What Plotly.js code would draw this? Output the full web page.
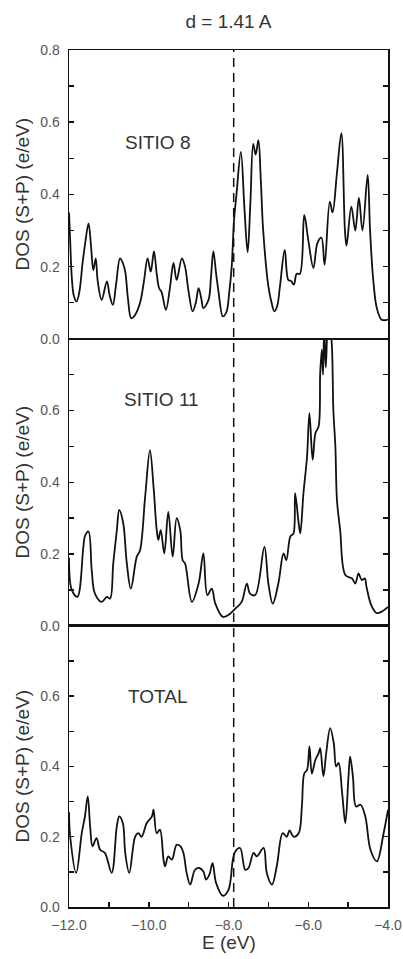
<!DOCTYPE html>
<html>
<head>
<meta charset="utf-8">
<script src="https://cdn.plot.ly/plotly-3.0.1.min.js"></script>
<style>
  html, body { margin: 0; padding: 0; background: #fff; }
  #chart { width: 403px; height: 959px; }
</style>
</head>
<body>
<div id="chart"></div>
<script>
// ---- Data ----
const energy8 = [-12.0,-11.97,-11.93,-11.88,-11.81,-11.74,-11.66,-11.60,-11.51,-11.45,-11.39,-11.33,-11.28,-11.18,-11.05,-10.98,-10.90,-10.82,-10.72,-10.65,-10.59,-10.52,-10.44,-10.35,-10.22,-10.12,-10.03,-9.95,-9.87,-9.80,-9.74,-9.68,-9.57,-9.47,-9.38,-9.30,-9.17,-9.09,-9.0,-8.90,-8.82,-8.75,-8.68,-8.63,-8.50,-8.44,-8.38,-8.31,-8.25,-8.14,-8.05,-7.98,-7.92,-7.86,-7.80,-7.69,-7.60,-7.52,-7.45,-7.38,-7.32,-7.25,-7.19,-7.13,-7.0,-6.92,-6.85,-6.78,-6.71,-6.59,-6.50,-6.43,-6.36,-6.29,-6.21,-6.10,-6.0,-5.87,-5.77,-5.67,-5.59,-5.46,-5.39,-5.28,-5.17,-5.08,-5.04,-4.92,-4.82,-4.73,-4.64,-4.51,-4.45,-4.37,-4.28,-4.16,-4.0];
const dos8 = [0.35,0.27,0.17,0.12,0.103,0.13,0.21,0.26,0.32,0.26,0.19,0.223,0.16,0.108,0.159,0.12,0.094,0.15,0.223,0.21,0.186,0.11,0.057,0.065,0.099,0.16,0.223,0.186,0.242,0.18,0.14,0.13,0.08,0.14,0.21,0.163,0.223,0.20,0.13,0.076,0.10,0.14,0.11,0.085,0.108,0.17,0.242,0.18,0.13,0.062,0.075,0.13,0.20,0.33,0.40,0.518,0.36,0.24,0.38,0.54,0.51,0.55,0.44,0.30,0.145,0.10,0.076,0.09,0.145,0.246,0.163,0.16,0.15,0.18,0.18,0.343,0.274,0.196,0.265,0.28,0.205,0.38,0.35,0.46,0.57,0.30,0.258,0.366,0.30,0.39,0.30,0.454,0.30,0.163,0.085,0.053,0.053];

const energy11 = [-12.0,-11.93,-11.79,-11.64,-11.60,-11.51,-11.43,-11.35,-11.18,-11.05,-10.97,-10.89,-10.80,-10.74,-10.64,-10.55,-10.45,-10.30,-10.22,-10.09,-9.97,-9.88,-9.80,-9.76,-9.70,-9.61,-9.51,-9.40,-9.30,-9.21,-9.15,-9.09,-8.92,-8.75,-8.63,-8.53,-8.42,-8.33,-8.14,-7.96,-7.83,-7.67,-7.54,-7.46,-7.33,-7.10,-7.0,-6.89,-6.75,-6.62,-6.55,-6.45,-6.37,-6.33,-6.24,-6.20,-6.12,-6.03,-5.97,-5.89,-5.82,-5.74,-5.70,-5.66,-5.63,-5.60,-5.56,-5.50,-5.42,-5.37,-5.32,-5.28,-5.20,-5.07,-4.90,-4.82,-4.74,-4.66,-4.58,-4.54,-4.42,-4.29,-4.17,-4.0];
const dos11 = [0.19,0.10,0.081,0.22,0.25,0.263,0.155,0.09,0.067,0.081,0.076,0.174,0.267,0.323,0.286,0.174,0.104,0.193,0.21,0.36,0.49,0.388,0.267,0.24,0.267,0.202,0.318,0.193,0.30,0.267,0.183,0.174,0.067,0.118,0.202,0.086,0.104,0.062,0.025,0.034,0.048,0.067,0.118,0.09,0.086,0.22,0.118,0.062,0.118,0.202,0.183,0.249,0.258,0.37,0.286,0.258,0.37,0.472,0.593,0.463,0.537,0.556,0.705,0.77,0.70,0.83,0.72,0.85,0.80,0.60,0.50,0.35,0.267,0.142,0.132,0.118,0.146,0.128,0.132,0.109,0.058,0.036,0.039,0.053];

const energyTotal = [-12.0,-11.97,-11.82,-11.68,-11.60,-11.53,-11.47,-11.41,-11.31,-11.22,-11.10,-10.93,-10.80,-10.74,-10.65,-10.59,-10.49,-10.34,-10.26,-10.18,-10.05,-9.92,-9.88,-9.80,-9.72,-9.63,-9.59,-9.51,-9.42,-9.30,-9.21,-9.13,-9.05,-8.96,-8.84,-8.73,-8.63,-8.56,-8.48,-8.40,-8.31,-8.14,-8.0,-7.89,-7.83,-7.71,-7.58,-7.50,-7.37,-7.29,-7.12,-7.04,-6.91,-6.79,-6.64,-6.54,-6.47,-6.37,-6.24,-6.16,-6.10,-6.03,-5.97,-5.91,-5.82,-5.74,-5.70,-5.62,-5.55,-5.45,-5.36,-5.30,-5.24,-5.15,-5.07,-4.99,-4.95,-4.88,-4.80,-4.69,-4.57,-4.44,-4.28,-4.11,-4.0];
const dosTotal = [0.27,0.20,0.097,0.21,0.258,0.315,0.23,0.173,0.196,0.163,0.154,0.097,0.23,0.258,0.239,0.154,0.097,0.20,0.21,0.20,0.239,0.258,0.277,0.21,0.22,0.135,0.116,0.144,0.135,0.177,0.173,0.154,0.097,0.064,0.106,0.111,0.101,0.078,0.092,0.125,0.068,0.032,0.049,0.135,0.158,0.168,0.106,0.111,0.154,0.144,0.168,0.097,0.064,0.116,0.21,0.20,0.218,0.20,0.21,0.286,0.38,0.39,0.457,0.38,0.419,0.438,0.452,0.372,0.438,0.509,0.466,0.40,0.41,0.324,0.239,0.372,0.428,0.372,0.286,0.291,0.258,0.163,0.13,0.21,0.277];

const xTickValues = [-12,-11,-10,-9,-8,-7,-6,-5,-4];
const xTickLabels = ['\u221212.0','','\u221210.0','','\u22128.0','','\u22126.0','','\u22124.0'];
const yTickValuesTop = [0,0.1,0.2,0.3,0.4,0.5,0.6,0.7,0.8];
const yTickLabelsTop = ['0.0','','0.2','','0.4','','0.6','','0.8'];
const yTickValues = [0,0.1,0.2,0.3,0.4,0.5,0.6,0.7];
const yTickLabels = ['0.0','','0.2','','0.4','','0.6',''];
const panelLabels = ['SITIO 8','SITIO 11','TOTAL'];
const fermiEnergy = -7.87;
const chartTitle = 'd = 1.41 A';
const yTitle = 'DOS (S+P) (e/eV)';
const xTitle = 'E (eV)';

// ---- Styling ----
const FONT = 'Liberation Sans, Arial, Helvetica, sans-serif';
const tickFont = {family: FONT, size: 14, color: '#555'};
const titleFont = {family: FONT, size: 19, color: '#333'};

function yAxis(domain, vals, labels) {
  return {
    domain: domain, range: [0, 0.8], anchor: 'x',
    tickmode: 'array', tickvals: vals, ticktext: labels,
    ticks: 'inside', ticklen: 5, tickwidth: 1.5, tickcolor: '#111',
    ticklabelstandoff: 5,
    showline: true, linecolor: '#111', linewidth: 1.5, mirror: 'ticks',
    showgrid: false, zeroline: false, tickfont: tickFont, fixedrange: true
  };
}
function xAxisPlain(anchor) {
  return {
    matches: 'x', anchor: anchor, range: [-12, -4],
    showticklabels: false, ticks: '', showline: true, mirror: true,
    linecolor: '#111', linewidth: 1.2, showgrid: false, zeroline: false
  };
}

const lineStyle = {color: '#111', width: 1.8, shape: 'spline', smoothing: 1};

const traces = [
  {x: energy8, y: dos8, xaxis: 'x3', yaxis: 'y3', mode: 'lines', line: lineStyle, hoverinfo: 'skip'},
  {x: energy11, y: dos11, xaxis: 'x2', yaxis: 'y2', mode: 'lines', line: lineStyle, hoverinfo: 'skip'},
  {x: energyTotal, y: dosTotal, xaxis: 'x', yaxis: 'y', mode: 'lines', line: lineStyle, hoverinfo: 'skip'}
];

const domains = [[0.663, 1], [0.328, 0.663], [0, 0.328]];
const axisRefs = [['x3','y3'], ['x2','y2'], ['x','y']];
const labelY = [0.545, 0.63, 0.60];
const labelX = [-9.77, -9.69, -9.79];

const annotations = [];
for (let i = 0; i < 3; i++) {
  annotations.push({
    xref: axisRefs[i][0], yref: axisRefs[i][1], x: labelX[i], y: labelY[i],
    text: panelLabels[i], showarrow: false, font: titleFont,
    xanchor: 'center', yanchor: 'middle'
  });
  annotations.push({
    xref: 'paper', yref: 'paper', x: -0.147, y: (domains[i][0] + domains[i][1]) / 2,
    text: yTitle, textangle: -90, showarrow: false, font: titleFont,
    xanchor: 'center', yanchor: 'middle'
  });
}
annotations.push({
  xref: 'paper', yref: 'paper', x: 0.5, y: -0.041, text: xTitle,
  showarrow: false, font: titleFont, xanchor: 'center', yanchor: 'middle'
});

const layout = {
  width: 403, height: 959,
  margin: {l: 69, r: 15, t: 50, b: 52},
  paper_bgcolor: '#fff', plot_bgcolor: '#fff',
  showlegend: false,
  title: {text: chartTitle, font: titleFont, x: 0.5, xref: 'paper', y: 1 - 21/959, yanchor: 'middle'},
  xaxis: {
    domain: [0, 1], range: [-12, -4], anchor: 'y',
    tickmode: 'array', tickvals: xTickValues, ticktext: xTickLabels,
    ticks: 'inside', ticklen: 5, tickwidth: 1.5, tickcolor: '#111',
    ticklabelstandoff: 5,
    showline: true, linecolor: '#111', linewidth: 1.5, mirror: true,
    showgrid: false, zeroline: false, tickfont: tickFont, fixedrange: true
  },
  xaxis2: xAxisPlain('y2'),
  xaxis3: xAxisPlain('y3'),
  yaxis: yAxis(domains[2], yTickValues, yTickLabels),
  yaxis2: yAxis(domains[1], yTickValues, yTickLabels),
  yaxis3: yAxis(domains[0], yTickValuesTop, yTickLabelsTop),
  shapes: [{
    type: 'line', xref: 'x', yref: 'paper', x0: fermiEnergy, x1: fermiEnergy, y0: 0, y1: 1,
    line: {color: '#111', width: 1.5, dash: '9px,6px'}
  }],
  annotations: annotations
};
layout.yaxis2.anchor = 'x2';
layout.yaxis3.anchor = 'x3';

Plotly.newPlot('chart', traces, layout, {staticPlot: true, displayModeBar: false});
</script>
</body>
</html>
